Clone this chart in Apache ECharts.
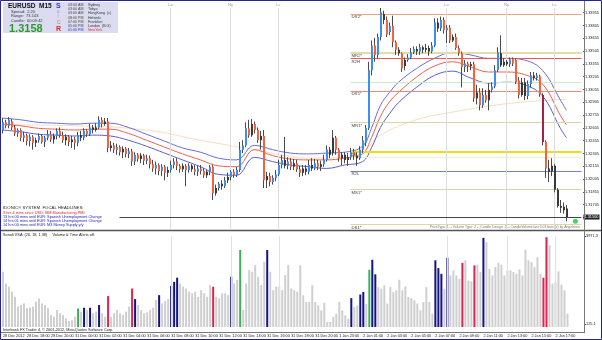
<!DOCTYPE html>
<html>
<head>
<meta charset="utf-8">
<script src="https://cdn.jsdelivr.net/npm/echarts@6/dist/echarts.min.js"></script>
<style>
	html, body { margin: 0; padding: 0; background: #fff; }
	#chart { width: 602px; height: 340px; }
</style>
</head>
<body>
<div id="chart"></div>
<script type="text/javascript">
// EURUSD M15 bars, [open, close, low, high]
var candles = [
[1.3258,1.3267,1.3254,1.3272],[1.3267,1.3263,1.3260,1.3270],[1.3263,1.3270,1.3260,1.3273],[1.3268,1.3261,1.3258,1.3271],[1.3261,1.3254,1.3251,1.3264],
[1.3254,1.3258,1.3250,1.3260],[1.3258,1.3249,1.3245,1.3260],[1.3249,1.3252,1.3244,1.3256],[1.3252,1.3245,1.3240,1.3254],[1.3245,1.3250,1.3239,1.3253],
[1.3250,1.3243,1.3235,1.3252],[1.3243,1.3246,1.3238,1.3249],[1.3246,1.3251,1.3243,1.3254],[1.3251,1.3244,1.3242,1.3253],[1.3244,1.3249,1.3238,1.3251],
[1.3249,1.3253,1.3246,1.3258],[1.3253,1.3247,1.3244,1.3257],[1.3247,1.3251,1.3242,1.3254],[1.3251,1.3257,1.3247,1.3260],[1.3257,1.3252,1.3249,1.3261],
[1.3252,1.3246,1.3243,1.3256],[1.3246,1.3250,1.3240,1.3253],[1.3250,1.3244,1.3239,1.3252],[1.3244,1.3247,1.3237,1.3251],[1.3247,1.3243,1.3235,1.3250],
[1.3243,1.3252,1.3239,1.3256],[1.3252,1.3249,1.3245,1.3257],[1.3249,1.3257,1.3246,1.3260],[1.3257,1.3253,1.3250,1.3259],[1.3253,1.3261,1.3251,1.3265],
[1.3261,1.3258,1.3254,1.3264],[1.3258,1.3261,1.3256,1.3266],[1.3261,1.3270,1.3259,1.3274],[1.3270,1.3265,1.3261,1.3273],[1.3265,1.3268,1.3263,1.3272],
[1.3268,1.3237,1.3232,1.3272],[1.3237,1.3240,1.3233,1.3245],[1.3240,1.3235,1.3231,1.3243],[1.3235,1.3238,1.3229,1.3242],[1.3238,1.3232,1.3228,1.3240],
[1.3232,1.3236,1.3225,1.3239],[1.3236,1.3230,1.3226,1.3238],[1.3230,1.3233,1.3225,1.3237],[1.3233,1.3221,1.3216,1.3236],[1.3221,1.3229,1.3217,1.3232],
[1.3229,1.3224,1.3221,1.3231],[1.3224,1.3228,1.3219,1.3231],[1.3228,1.3222,1.3217,1.3230],[1.3222,1.3225,1.3218,1.3229],[1.3225,1.3218,1.3213,1.3228],
[1.3218,1.3213,1.3209,1.3223],[1.3213,1.3217,1.3206,1.3221],[1.3217,1.3210,1.3205,1.3219],[1.3210,1.3215,1.3204,1.3218],[1.3215,1.3208,1.3199,1.3217],
[1.3208,1.3211,1.3203,1.3215],[1.3211,1.3217,1.3208,1.3222],[1.3217,1.3221,1.3213,1.3225],[1.3221,1.3216,1.3211,1.3225],[1.3216,1.3212,1.3208,1.3218],
[1.3212,1.3216,1.3209,1.3219],[1.3216,1.3211,1.3192,1.3218],[1.3211,1.3216,1.3208,1.3219],[1.3216,1.3212,1.3209,1.3218],[1.3212,1.3209,1.3205,1.3217],
[1.3209,1.3213,1.3204,1.3216],[1.3213,1.3210,1.3206,1.3217],[1.3210,1.3205,1.3202,1.3213],[1.3205,1.3209,1.3202,1.3211],[1.3209,1.3215,1.3205,1.3217],
[1.3215,1.3184,1.3176,1.3217],[1.3184,1.3190,1.3181,1.3194],[1.3190,1.3195,1.3187,1.3197],[1.3195,1.3192,1.3188,1.3199],[1.3192,1.3199,1.3190,1.3203],
[1.3199,1.3203,1.3196,1.3208],[1.3203,1.3209,1.3199,1.3211],[1.3209,1.3205,1.3202,1.3212],[1.3205,1.3211,1.3203,1.3215],[1.3211,1.3235,1.3209,1.3244],
[1.3235,1.3240,1.3231,1.3246],[1.3240,1.3260,1.3238,1.3267],[1.3260,1.3252,1.3249,1.3270],[1.3252,1.3265,1.3250,1.3271],[1.3265,1.3258,1.3254,1.3268],
[1.3258,1.3246,1.3243,1.3261],[1.3246,1.3251,1.3235,1.3257],[1.3251,1.3199,1.3190,1.3258],[1.3199,1.3204,1.3190,1.3209],[1.3204,1.3197,1.3192,1.3208],
[1.3197,1.3202,1.3194,1.3205],[1.3202,1.3206,1.3198,1.3211],[1.3206,1.3217,1.3204,1.3223],[1.3217,1.3223,1.3213,1.3229],[1.3223,1.3216,1.3213,1.3250],
[1.3216,1.3221,1.3212,1.3226],[1.3221,1.3215,1.3211,1.3225],[1.3215,1.3219,1.3211,1.3224],[1.3219,1.3212,1.3209,1.3223],[1.3212,1.3208,1.3203,1.3216],
[1.3208,1.3213,1.3204,1.3217],[1.3213,1.3209,1.3205,1.3217],[1.3209,1.3217,1.3206,1.3223],[1.3217,1.3213,1.3210,1.3225],[1.3213,1.3219,1.3211,1.3224],
[1.3219,1.3215,1.3211,1.3223],[1.3215,1.3218,1.3210,1.3222],[1.3218,1.3223,1.3215,1.3229],[1.3223,1.3235,1.3221,1.3240],[1.3235,1.3229,1.3225,1.3238],
[1.3231,1.3249,1.3228,1.3258],[1.3249,1.3235,1.3229,1.3251],[1.3235,1.3225,1.3221,1.3237],[1.3225,1.3229,1.3217,1.3232],[1.3229,1.3223,1.3219,1.3232],
[1.3223,1.3226,1.3216,1.3231],[1.3226,1.3232,1.3223,1.3237],[1.3232,1.3228,1.3223,1.3236],[1.3228,1.3225,1.3216,1.3232],[1.3225,1.3235,1.3223,1.3239],
[1.3235,1.3246,1.3231,1.3251],[1.3243,1.3260,1.3239,1.3264],[1.3260,1.3328,1.3258,1.3338],[1.3328,1.3357,1.3322,1.3363],[1.3357,1.3346,1.3338,1.3366],
[1.3346,1.3367,1.3342,1.3371],[1.3367,1.3396,1.3363,1.3401],[1.3394,1.3387,1.3382,1.3398],[1.3387,1.3370,1.3367,1.3391],[1.3373,1.3380,1.3369,1.3384],
[1.3380,1.3361,1.3355,1.3392],[1.3361,1.3352,1.3346,1.3363],[1.3352,1.3348,1.3345,1.3355],[1.3348,1.3330,1.3326,1.3349],[1.3333,1.3340,1.3328,1.3343],
[1.3340,1.3343,1.3338,1.3347],[1.3343,1.3349,1.3341,1.3354],[1.3349,1.3353,1.3347,1.3356],[1.3353,1.3350,1.3346,1.3356],[1.3350,1.3355,1.3346,1.3359],
[1.3355,1.3352,1.3348,1.3357],[1.3352,1.3354,1.3349,1.3359],[1.3354,1.3350,1.3345,1.3357],[1.3350,1.3357,1.3348,1.3361],[1.3357,1.3384,1.3355,1.3389],
[1.3384,1.3377,1.3373,1.3389],[1.3377,1.3387,1.3374,1.3391],[1.3387,1.3375,1.3371,1.3390],[1.3375,1.3378,1.3360,1.3381],[1.3378,1.3363,1.3360,1.3381],
[1.3363,1.3367,1.3361,1.3370],[1.3367,1.3354,1.3352,1.3371],[1.3354,1.3348,1.3345,1.3357],[1.3348,1.3332,1.3308,1.3350],[1.3332,1.3336,1.3326,1.3340],
[1.3336,1.3333,1.3326,1.3338],[1.3333,1.3335,1.3328,1.3338],[1.3335,1.3295,1.3291,1.3338],[1.3295,1.3302,1.3288,1.3311],[1.3302,1.3287,1.3281,1.3307],
[1.3287,1.3299,1.3284,1.3307],[1.3299,1.3293,1.3290,1.3305],[1.3293,1.3305,1.3281,1.3313],[1.3305,1.3309,1.3302,1.3314],[1.3309,1.3328,1.3307,1.3334],
[1.3328,1.3349,1.3326,1.3355],[1.3348,1.3334,1.3332,1.3369],[1.3334,1.3338,1.3332,1.3342],[1.3338,1.3335,1.3333,1.3340],[1.3335,1.3341,1.3332,1.3343],
[1.3341,1.3336,1.3333,1.3343],[1.3340,1.3314,1.3312,1.3342],[1.3316,1.3299,1.3295,1.3320],[1.3299,1.3314,1.3297,1.3319],[1.3314,1.3298,1.3293,1.3319],
[1.3298,1.3312,1.3294,1.3316],[1.3312,1.3322,1.3308,1.3326],[1.3322,1.3319,1.3316,1.3326],[1.3319,1.3322,1.3316,1.3325],[1.3321,1.3300,1.3297,1.3323],
[1.3299,1.3244,1.3240,1.3301],[1.3244,1.3213,1.3202,1.3246],[1.3213,1.3209,1.3197,1.3223],[1.3209,1.3216,1.3204,1.3225],[1.3216,1.3188,1.3185,1.3218],
[1.3188,1.3169,1.3167,1.3190],[1.3169,1.3167,1.3161,1.3176],[1.3168,1.3164,1.3160,1.3173],[1.3166,1.3156,1.3151,1.3170]
];
// b = up bar, o = down bar, k = neutral, d = climax down bar
var candleTypes = "boboobobob" + "okbobbokbo" + "okokobkbob" + "kkbokokobo" + "kobobokobo" +
	"obobokbboo" + "kobkobookb" + "okbkbkbobb" + "bbokookoko" + "bbbbkbokoo" +
	"kkbkbokbbk" + "kookkkbokb" + "bbbbobbkob" + "ookokbbbkb" + "kkkbbkbobo" +
	"kooobokoko" + "bokbbbkkkb" + "oookkbbkbo" + "dokkkkkkk";

var volumes = [
2410,1900,1760,1540,1320,890,960,1030,820,850,
890,1100,1250,1030,960,820,520,450,740,600,
520,380,260,300,450,810,670,840,740,840,
600,670,960,600,450,1350,450,600,740,600,
520,670,890,1680,1220,960,740,600,640,740,
840,1180,1390,1030,1130,1220,1800,1970,2150,1900,
1760,1680,1540,1470,1540,1320,1610,1470,1320,1830,
1760,1320,1250,1470,1470,1390,2190,1900,2050,3360,
740,1900,2490,2410,2700,2190,1830,2850,3360,2410,
1610,1760,1760,1610,2270,2700,1680,1610,1540,2700,
1380,1090,1090,1820,1090,940,730,1060,220,220,
440,580,1090,730,510,360,1260,870,940,1420,
1530,1000,2500,2935,2300,1740,1670,1820,1020,1740,
1530,1600,2060,1600,1770,1310,1260,1160,1020,730,
1090,1740,1090,580,2910,2570,2320,1670,3020,2250,
2470,2250,2110,2800,2910,2030,1990,2690,2720,2400,
3890,3700,2540,2250,2620,2800,2720,2250,2470,2470,
2400,2320,2510,2250,3370,2910,2830,2620,3050,2320,
2150,3920,3560,1890,1960,2430,1850,1600,580
];
var navyBars = [27, 29, 32, 44, 52, 56, 57, 58, 76, 88, 116, 119, 120, 123, 124, 144, 145, 146, 148, 160];
var redBars = [35, 43, 70, 153, 157, 180, 181];
var greenBars = [25, 79, 122];

// channel lines, read every few bars
var bandIdx = [0,6,12,18,24,30,36,42,48,54,60,66,72,78,84,90,96,102,108,114,120,123,126,129,132,138,144,150,156,162,168,174,180,186,188];
var bandUpper = [1.3272,1.3270,1.3267,1.3266,1.3265,1.3266,1.3266,1.3261,1.3253,1.3245,1.3237,1.3232,1.3225,1.3223,1.3240,1.3235,1.3231,1.3230,1.3231,1.3232,1.3239,1.3260,1.3287,1.3302,1.3314,1.3330,1.3342,1.3349,1.3346,1.3342,1.3342,1.3340,1.3328,1.3293,1.3281];
var bandMid = [1.3265,1.3263,1.3260,1.3259,1.3258,1.3259,1.3259,1.3254,1.3246,1.3238,1.3230,1.3223,1.3216,1.3215,1.3235,1.3228,1.3224,1.3223,1.3223,1.3225,1.3230,1.3249,1.3274,1.3291,1.3302,1.3320,1.3333,1.3338,1.3332,1.3326,1.3326,1.3323,1.3312,1.3275,1.3264];
var bandLower = [1.3258,1.3256,1.3253,1.3252,1.3251,1.3252,1.3251,1.3246,1.3239,1.3231,1.3223,1.3215,1.3206,1.3205,1.3226,1.3221,1.3217,1.3215,1.3213,1.3217,1.3221,1.3237,1.3261,1.3277,1.3290,1.3308,1.3322,1.3327,1.3319,1.3313,1.3314,1.3311,1.3298,1.3260,1.3249];
var slowIdx = [0,24,48,66,84,102,114,120,126,138,150,162,174,188];
var slowMa = [1.3264,1.3263,1.3258,1.3246,1.3235,1.3225,1.3226,1.3232,1.3252,1.3270,1.3279,1.3286,1.3291,1.3294];

// pivot levels
var levelNames = ['DR2*', 'MR2*', 'R2H', '', 'DR1*', 'MR1*', 'DP', '', 'R2L', 'MS1*', 'DS1*'];
var levelPrices = [1.3394, 1.3349, 1.3342, 1.3314, 1.3304, 1.3267, 1.3232, 1.3226, 1.3210, 1.3188, 1.3147];
var levelStart = 116;
var bidStart = 39;

var sessionBars = [56, 76, 92, 148, 168, 184];
var sessionNames = ['Lo', 'Ny', 'Lc', 'Lo', 'Ny', 'Lc'];

// time labels, one every 8 bars
var timeLabels = ['28 Dec 2012', '28 Dec 18:00', '28 Dec 20:00', '31 Dec 00:00', '31 Dec 02:00', '31 Dec 04:00',
	'31 Dec 06:00', '31 Dec 08:00', '31 Dec 10:00', '31 Dec 12:00', '31 Dec 14:00', '31 Dec 16:00',
	'31 Dec 18:00', '31 Dec 20:00', '1 Jan 23:00', '2 Jan 01:00', '2 Jan 03:00', '2 Jan 05:00',
	'2 Jan 07:00', '2 Jan 09:00', '2 Jan 11:00', '2 Jan 13:00', '2 Jan 15:00', '2 Jan 17:00'];
var priceTicks = [1.33955, 1.33805, 1.33655, 1.33505, 1.33355, 1.33205, 1.33055, 1.32905, 1.32755,
	1.32605, 1.32455, 1.32305, 1.32155, 1.32005, 1.31855, 1.31705, 1.31555];
var volTicks = [125.1, 3971.3];

var slots = 194;      // bars plus empty space on the right
var markerBar = 191;  // green dot
var markerPrice = 1.3151;

//----------------------------------------------------------------
var FONT = '"Liberation Sans", Arial, sans-serif';
var typeColors = { b: '#3d8ef0', o: '#f4643c', k: '#3a3a3a', d: '#a51f4b' };
var levelColors = ['#f2a27a', '#e4dca8', '#e85a5a', '#cdeccd', '#f08a78', '#ddd5a6', '#eedc1a', '#f2f0c8', '#7a7ae6', '#ddd5a6', '#ddd5a6'];
var levelWidths = [1, 2, 1, 1, 1, 1, 2, 1, 1, 1, 1];

var cats = [];
for (var i = 0; i < slots; i++) cats.push(i);

var lastClose = candles[candles.length - 1][1];

function pairs(idx, vals) {
	var out = [];
	for (var k = 0; k < idx.length; k++) out.push([idx[k], vals[k]]);
	return out;
}

function volColor(i) {
	if (navyBars.indexOf(i) >= 0) return '#14147e';
	if (redBars.indexOf(i) >= 0) return '#e0224c';
	if (greenBars.indexOf(i) >= 0) return '#3cb05a';
	return '#cfcfcf';
}

function renderCandle(params, api) {
	var i = api.value(0);
	var pO = api.coord([i, api.value(1)]);
	var pC = api.coord([i, api.value(2)]);
	var pL = api.coord([i, api.value(3)]);
	var pH = api.coord([i, api.value(4)]);
	var px = Math.round(pO[0]);
	var top = Math.min(pO[1], pC[1]), bot = Math.max(pO[1], pC[1]);
	if (bot - top < 1) bot = top + 1;
	var col = typeColors[candleTypes.charAt(i)] || '#3a3a3a';
	return {
		type: 'group',
		children: [
			{ type: 'line', shape: { x1: px + 0.5, y1: pH[1], x2: px + 0.5, y2: pL[1] }, style: { stroke: '#4a4a4a', lineWidth: 1 } },
			{ type: 'rect', shape: { x: px, y: top, width: 2, height: bot - top }, style: { fill: col } }
		]
	};
}

function T(text, x, y, size, color, weight, align) {
	return {
		type: 'text', x: x, y: y, z: 100,
		style: {
			text: text, fill: color, align: align || 'left', verticalAlign: 'middle',
			font: (weight || 'normal') + ' ' + size + 'px ' + FONT
		}
	};
}

var graphics = [
	{ type: 'rect', z: 90, shape: { x: 3, y: 2, width: 115, height: 31 }, style: { fill: '#dcdcf0' } },
	T('EURUSD  M15', 8, 6, 6.5, '#111', 'bold'),
	T('Spread:  2.20', 11, 11.5, 4, '#333'),
	T('Range:  73.143', 11, 16, 4, '#333'),
	T('Candle:  00:09:42', 11, 20.5, 4, '#333'),
	T('1.3158', 9, 28.5, 11, '#2a9a2a', 'bold'),
	T('S', 56, 6, 7, '#3333cc', 'bold'),
	T('u', 57, 12, 4.5, '#9090d0'),
	T('l', 57.5, 17, 4.5, '#a0a0c8'),
	T('C', 57, 22.5, 5, '#d07070'),
	T('R', 56, 29, 7, '#dd2222', 'bold')
];
var sessTimes = ['03:00 AM', '03:00 AM', '03:00 AM', '08:00 PM', '07:00 PM', '05:00 PM', '01:00 PM'];
var sessCities = ['Sydney', 'Tokyo', 'HongKong  (c)', 'Helsinki', 'Frankfurt', 'London  (B.G)', 'NewYork'];
for (var s = 0; s < sessTimes.length; s++) {
	var yy = 5 + s * 4.2;
	graphics.push(T(sessTimes[s], 68, yy, 3.6, s === 6 ? '#2233cc' : '#444'));
	graphics.push(T(sessCities[s], 88, yy, 3.6, s === 6 ? '#dd3333' : '#333'));
}
graphics = graphics.concat([
	T('IDONIC\u00ae SYSTEM  FOCAL HEADLINES:', 3, 208, 4.3, '#222'),
	T('3 hrs 4 mins since USD: ISM Manufacturing PMI', 3, 212.5, 3.8, '#e02020'),
	T('13 hrs 00 mins until EUR: Spanish Unemployment Change', 3, 216.5, 3.8, '#2222c0'),
	T('14 hrs 01 mins until EUR: Spanish Unemployment Change', 3, 220.5, 3.8, '#2222c0'),
	T('14 hrs 00 mins until EUR: M3 Money Supply y/y', 3, 224.5, 3.8, '#2222c0'),
	T('PriceType: 1 -- Volume Type: 2 -- Candle Design: 2 -- CandleVolume last 0.03 bars (c) by Angelsimo', 580, 227, 3.4, '#777', 'normal', 'right'),
	T('Sonofi VSA: (26, 18, 1.38)     Volume & Time Alerts off.', 3, 234.5, 3.8, '#222'),
	T('Interbank FX Trader 4, \u00a9 2001-2012, MetaQuotes Software Corp.', 3, 329.5, 3.8, '#222'),
	{ type: 'line', z: 95, shape: { x1: 0, y1: 230.5, x2: 602, y2: 230.5 }, style: { stroke: '#555', lineWidth: 1.5 } },
	{ type: 'line', z: 95, shape: { x1: 0, y1: 332.5, x2: 584, y2: 332.5 }, style: { stroke: '#777', lineWidth: 1 } },
	{ type: 'line', z: 95, shape: { x1: 584.5, y1: 0, x2: 584.5, y2: 333 }, style: { stroke: '#777', lineWidth: 1 } },
	{ type: 'rect', z: 96, shape: { x: 0.5, y: 0.5, width: 601, height: 339 }, style: { fill: 'none', stroke: '#26268a', lineWidth: 1 } }
]);

var levelLines = [];
for (var k = 0; k < levelPrices.length; k++) {
	levelLines.push([
		{
			coord: [levelStart, levelPrices[k]],
			lineStyle: { color: levelColors[k], width: levelWidths[k], type: 'solid' },
			label: { show: levelNames[k] !== '', formatter: levelNames[k] }
		},
		{ coord: [slots - 1, levelPrices[k]] }
	]);
}

var sessionLines = sessionBars.map(function (b, k) {
	return { xAxis: b, label: { formatter: sessionNames[k] } };
});

var chart = echarts.init(document.getElementById('chart'), null, { renderer: 'canvas' });
chart.setOption({
	animation: false,
	backgroundColor: '#ffffff',
	textStyle: { fontFamily: FONT },
	grid: [
		{ left: 1, right: 18, top: 8, height: 221 },
		{ left: 1, right: 18, top: 236, height: 91 }
	],
	xAxis: [
		{ type: 'category', gridIndex: 0, data: cats, show: false },
		{
			type: 'category', gridIndex: 1, data: cats,
			axisLine: { show: false },
			axisTick: { show: false },
			axisLabel: {
				interval: function (index) { return index % 8 === 0 && index / 8 < timeLabels.length; },
				formatter: function (v) { return timeLabels[Number(v) / 8]; },
				align: 'left', fontSize: 3.8, color: '#222', margin: 7
			}
		}
	],
	yAxis: [
		{
			type: 'value', gridIndex: 0, position: 'right', min: 1.3142, max: 1.3401,
			splitLine: { show: false },
			axisLine: { show: false },
			axisTick: { show: true, customValues: priceTicks, length: 2, lineStyle: { color: '#555' } },
			axisLabel: {
				customValues: priceTicks, fontSize: 3.9, color: '#222', margin: 2,
				formatter: function (v) { return v.toFixed(5); }
			}
		},
		{
			type: 'value', gridIndex: 1, position: 'right', min: 0, max: 3971.3,
			splitLine: { show: false },
			axisLine: { show: false },
			axisTick: { show: true, customValues: volTicks, length: 2, lineStyle: { color: '#555' } },
			axisLabel: {
				customValues: volTicks, fontSize: 3.9, color: '#222', margin: 2,
				formatter: function (v) { return v.toFixed(1); }
			}
		}
	],
	graphic: graphics,
	series: [
		{
			name: 'slow', type: 'line', xAxisIndex: 0, yAxisIndex: 0, z: 1,
			data: pairs(slowIdx, slowMa), smooth: 0.4, showSymbol: false,
			lineStyle: { color: '#f7dfbf', width: 1 },
			markLine: {
				silent: true, symbol: ['none', 'none'],
				label: { position: 'insideStartBottom', fontSize: 4.3, color: '#444', distance: 1 },
				data: levelLines
			}
		},
		{
			name: 'sessions', type: 'line', xAxisIndex: 0, yAxisIndex: 0, data: [], z: 1,
			markLine: {
				silent: true, symbol: ['none', 'none'],
				lineStyle: { color: '#dcdcdc', width: 1, type: 'solid' },
				label: { position: 'end', fontSize: 4.2, color: '#999', distance: 1 },
				data: sessionLines
			}
		},
		{
			name: 'upper', type: 'line', xAxisIndex: 0, yAxisIndex: 0, z: 2,
			data: pairs(bandIdx, bandUpper), smooth: 0.4, showSymbol: false,
			lineStyle: { color: '#5a5ad8', width: 0.9 }
		},
		{
			name: 'mid', type: 'line', xAxisIndex: 0, yAxisIndex: 0, z: 2,
			data: pairs(bandIdx, bandMid), smooth: 0.4, showSymbol: false,
			lineStyle: { color: '#e8503a', width: 0.9 }
		},
		{
			name: 'lower', type: 'line', xAxisIndex: 0, yAxisIndex: 0, z: 2,
			data: pairs(bandIdx, bandLower), smooth: 0.4, showSymbol: false,
			lineStyle: { color: '#4a4ac8', width: 0.9 }
		},
		{
			name: 'bid', type: 'line', xAxisIndex: 0, yAxisIndex: 0, data: [], z: 3,
			markLine: {
				silent: true, symbol: ['none', 'none'],
				lineStyle: { color: '#444', width: 1, type: 'solid' },
				label: {
					position: 'end', distance: 2, fontSize: 3.9, color: '#fff',
					backgroundColor: '#222', padding: [1, 1, 0, 1],
					formatter: lastClose.toFixed(5)
				},
				data: [[{ coord: [bidStart, lastClose] }, { coord: [slots - 1, lastClose] }]]
			}
		},
		{
			name: 'candles', type: 'custom', xAxisIndex: 0, yAxisIndex: 0, z: 5,
			renderItem: renderCandle,
			encode: { x: 0, y: [1, 2, 3, 4] },
			data: candles.map(function (d, i) { return [i, d[0], d[1], d[2], d[3]]; })
		},
		{
			name: 'marker', type: 'scatter', xAxisIndex: 0, yAxisIndex: 0, z: 6,
			symbolSize: 5, itemStyle: { color: '#22c83a' },
			data: [[markerBar, markerPrice]]
		},
		{
			name: 'volume', type: 'bar', xAxisIndex: 1, yAxisIndex: 1, barWidth: 2, z: 2,
			data: volumes.map(function (v, i) { return { value: v, itemStyle: { color: volColor(i) } }; }),
			markLine: {
				silent: true, symbol: ['none', 'none'],
				lineStyle: { color: '#e2e2e2', width: 1, type: 'solid' },
				label: { show: false },
				data: sessionBars.map(function (b) { return { xAxis: b }; })
			}
		}
	]
});
</script>
</body>
</html>
